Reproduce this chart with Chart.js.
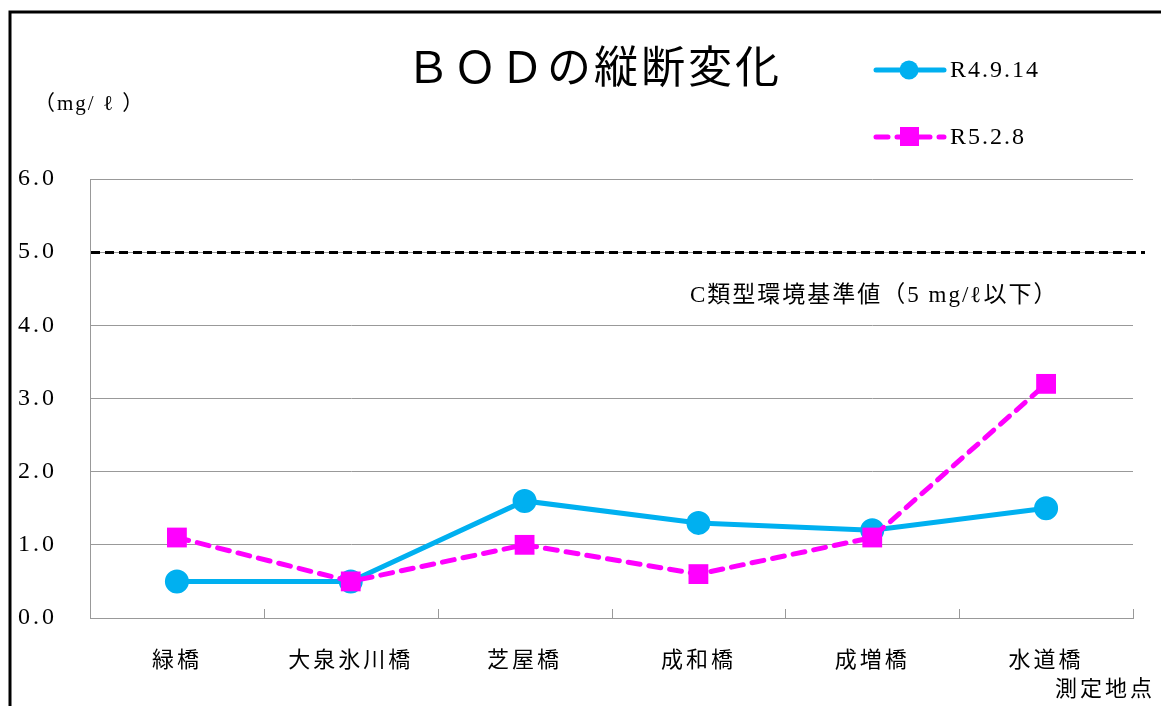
<!DOCTYPE html>
<html><head><meta charset="utf-8">
<script src="https://cdn.jsdelivr.net/npm/chart.js@4/dist/chart.umd.min.js"></script>
<style>html,body{margin:0;padding:0;background:#fff;}#wrap{width:1161px;height:706px;position:relative;}</style>
</head><body><div id="wrap"><canvas id="c" width="1161" height="706"></canvas></div>
<script>
const categories = ['緑橋','大泉氷川橋','芝屋橋','成和橋','成増橋','水道橋'];
const seriesNames = ['R4.9.14','R5.2.8'];
const seriesR4 = [0.5, 0.5, 1.6, 1.3, 1.2, 1.5];
const seriesR5 = [1.1, 0.5, 1.0, 0.6, 1.1, 3.2];
const yTicks = [0, 1, 2, 3, 4, 5, 6];
const standardValue = 5.0;
const titleText = 'ＢＯＤの縦断変化';
const unitText = '（mg/ ℓ ）';
const standardText = 'C類型環境基準値（5 mg/ℓ以下）';
const xAxisTitle = '測定地点';

const SERIF = "'Liberation Serif', 'Noto Sans CJK JP', serif";
const CJK = "'Noto Sans CJK JP', 'Liberation Serif', sans-serif";
const CYAN = '#00B0F0', MAG = '#FF00FF';

function setLS(ctx, v) { if ('letterSpacing' in ctx) ctx.letterSpacing = v; }

const decor = {
  id: 'decor',
  beforeDraw(chart) { setLS(chart.ctx, '3px'); },
  beforeDatasetsDraw(chart) {
    const ctx = chart.ctx, a = chart.chartArea, y = chart.scales.y, x = chart.scales.x;
    ctx.save();
    const yy = Math.round(y.getPixelForValue(standardValue)) + 0.5;
    ctx.strokeStyle = '#000'; ctx.lineWidth = 3; ctx.setLineDash([9, 5]);
    ctx.beginPath(); ctx.moveTo(a.left + 1, yy); ctx.lineTo(a.right + 12, yy); ctx.stroke();
    ctx.setLineDash([]);
    ctx.strokeStyle = '#999'; ctx.lineWidth = 1;
    const n = categories.length;
    for (let i = 0; i <= n; i++) {
      let px;
      if (i === 0) px = a.left; else if (i === n) px = a.right;
      else px = (x.getPixelForValue(i - 1) + x.getPixelForValue(i)) / 2;
      px = Math.round(px) + 0.5;
      ctx.beginPath(); ctx.moveTo(px, a.bottom - 9); ctx.lineTo(px, a.bottom); ctx.stroke();
    }
    ctx.restore();
  },
  afterDraw(chart) {
    const ctx = chart.ctx;
    ctx.save();
    ctx.strokeStyle = '#000'; ctx.lineWidth = 3;
    ctx.beginPath(); ctx.moveTo(10, 720); ctx.lineTo(10, 12); ctx.lineTo(1180, 12); ctx.stroke();
    ctx.fillStyle = '#000'; ctx.textBaseline = 'middle'; ctx.textAlign = 'center';
    ctx.font = "44px " + CJK;
    setLS(ctx, '3px');
    ctx.fillText(titleText, 594, 66);
    ctx.textAlign = 'left';
    setLS(ctx, '2px');
    ctx.font = "21px " + SERIF;
    ctx.fillText(unitText, 34, 104);
    setLS(ctx, '2px');
    ctx.font = "23px " + SERIF;
    ctx.fillText(standardText, 690, 296);
    setLS(ctx, '3px');
    ctx.font = "22px " + CJK;
    ctx.fillText(xAxisTitle, 1055, 688);
    const ds = chart.data.datasets;
    const rows = [70, 137];
    ds.forEach((d, i) => {
      const ly = rows[i];
      ctx.strokeStyle = d.borderColor; ctx.lineWidth = 5; ctx.lineCap = 'round';
      ctx.setLineDash(d.borderDash || []);
      ctx.beginPath(); ctx.moveTo(876, ly); ctx.lineTo(944, ly); ctx.stroke();
      ctx.setLineDash([]);
      ctx.fillStyle = d.pointBackgroundColor;
      if (d.pointStyle === 'rect') { ctx.fillRect(900, ly - 10, 19, 19); }
      else { ctx.beginPath(); ctx.arc(909, ly, 9.5, 0, Math.PI * 2); ctx.fill(); }
      ctx.fillStyle = '#000'; ctx.font = "24px " + SERIF; ctx.textAlign = 'left';
      setLS(ctx, '2px');
      ctx.fillText(d.label, 950, ly + 1);
    });
    ctx.restore();
    setLS(ctx, '0px');
  }
};

new Chart(document.getElementById('c'), {
  type: 'line',
  data: {
    labels: categories,
    datasets: [
      { label: seriesNames[0], data: seriesR4, borderColor: CYAN, backgroundColor: CYAN, order: 2,
        pointBackgroundColor: CYAN, pointBorderColor: CYAN, borderWidth: 5, pointRadius: 9.5,
        pointStyle: 'circle', tension: 0, borderCapStyle: 'round' },
      { label: seriesNames[1], data: seriesR5, borderColor: MAG, backgroundColor: MAG, order: 1,
        pointBackgroundColor: MAG, pointBorderColor: MAG, borderWidth: 5, pointRadius: 14,
        pointBorderWidth: 0, pointStyle: 'rect', borderDash: [12, 9], borderCapStyle: 'round', tension: 0 }
    ]
  },
  options: {
    responsive: false, animation: false, devicePixelRatio: 1,
    layout: { padding: { left: 10, right: 28, top: 179, bottom: 0 } },
    plugins: { legend: { display: false }, tooltip: { enabled: false } },
    scales: {
      x: {
        offset: true,
        grid: { display: false, drawTicks: false },
        border: { display: true, color: '#999', width: 1 },
        ticks: { color: '#000', font: { family: CJK, size: 22 }, padding: 27, maxRotation: 0, autoSkip: false },
        afterFit(s) { s.height = 88; }
      },
      y: {
        min: 0, max: 6,
        afterBuildTicks(s) { s.ticks = yTicks.map(v => ({ value: v })); },
        grid: { color: '#999', lineWidth: 1, drawTicks: false },
        border: { display: true, color: '#999', width: 1 },
        ticks: { color: '#000', font: { family: SERIF, size: 24 }, padding: 33,
                 callback: v => Number(v).toFixed(1) },
        afterFit(s) { s.width = 80; }
      }
    }
  },
  plugins: [decor]
});
</script></body></html>
